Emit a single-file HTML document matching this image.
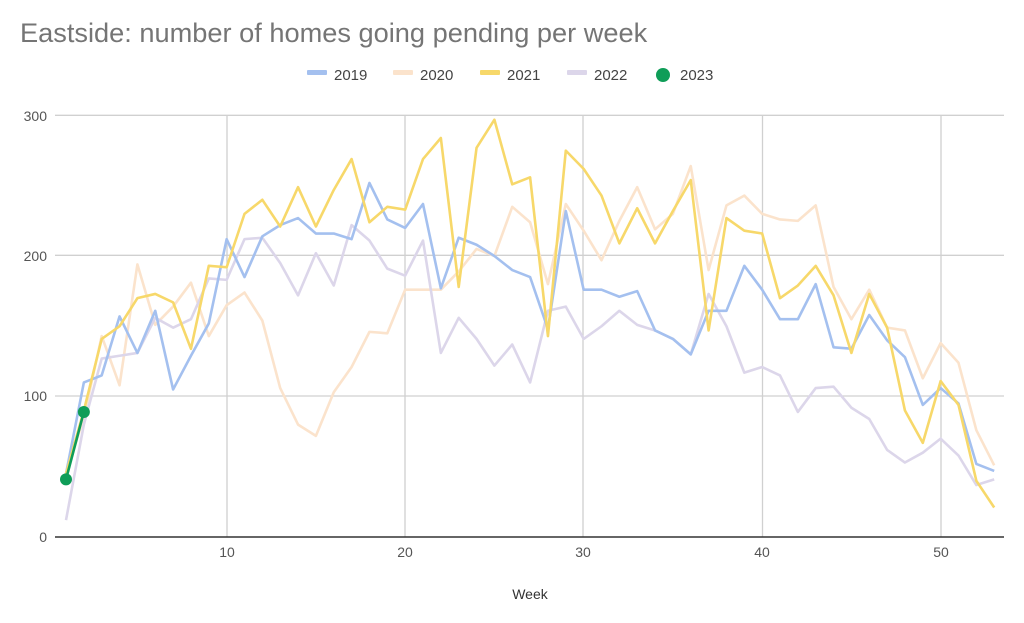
<!DOCTYPE html>
<html><head><meta charset="utf-8"><style>
body{margin:0;background:#fff;width:1024px;height:618px;overflow:hidden}
text{font-family:"Liberation Sans",sans-serif}
</style></head><body>
<svg id="s" width="1024" height="618" xmlns="http://www.w3.org/2000/svg">
<text x="20" y="42" font-size="27.2" fill="#757575">Eastside: number of homes going pending per week</text>
<g font-size="15" fill="#444">
<rect x="307" y="70" width="20" height="5" fill="#a4c0ef" rx="1"/><text x="334" y="80">2019</text>
<rect x="393" y="70" width="20" height="5" fill="#fbe3cc" rx="1"/><text x="420" y="80">2020</text>
<rect x="480" y="70" width="20" height="5" fill="#f7d86a" rx="1"/><text x="507" y="80">2021</text>
<rect x="567" y="70" width="20" height="5" fill="#dcd6ea" rx="1"/><text x="594" y="80">2022</text>
<circle cx="663" cy="75" r="7" fill="#0f9d58"/><text x="680" y="80">2023</text>
</g>
<g stroke="#d0d0d0" stroke-width="1.3">
<line x1="55" y1="115.3" x2="1004" y2="115.3"/><line x1="55" y1="255.3" x2="1004" y2="255.3"/><line x1="55" y1="396" x2="1004" y2="396"/>
<line x1="227" y1="115" x2="227" y2="537"/><line x1="405" y1="115" x2="405" y2="537"/><line x1="583" y1="115" x2="583" y2="537"/><line x1="762.5" y1="115" x2="762.5" y2="537"/><line x1="941" y1="115" x2="941" y2="537"/>
</g>
<line x1="55" y1="537" x2="1004" y2="537" stroke="#333" stroke-width="1.5"/>
<g font-size="14" fill="#555" text-anchor="end">
<text x="47" y="121">300</text><text x="47" y="261">200</text><text x="47" y="401">100</text><text x="47" y="542">0</text>
</g>
<g font-size="14" fill="#555" text-anchor="middle">
<text x="227" y="557">10</text><text x="405" y="557">20</text><text x="583" y="557">30</text><text x="762" y="557">40</text><text x="941" y="557">50</text>
<text x="530" y="599" fill="#333">Week</text>
</g>
<g id="lines" fill="none" stroke-width="2.6" stroke-linejoin="round"></g>
</svg>
<script>
var D={
"#fbe3cc":[45,85,143,108,194,151,164,181,143,165,174,154,106,80,72,103,121,146,145,176,176,176,189,205,200,235,224,180,237,218,197,225,249,219,230,264,190,236,243,230,226,225,236,178,155,176,149,147,113,138,124,76,51],
"#dcd6ea":[12,80,127,129,131,156,149,155,184,183,212,213,195,172,202,179,222,211,191,186,211,131,156,141,122,137,110,161,164,141,150,161,151,147,141,130,173,150,117,121,115,89,106,107,92,84,62,53,60,70,58,37,41],
"#a4c0ef":[45,110,115,157,131,161,105,129,152,212,185,214,222,227,216,216,212,252,226,220,237,177,213,208,200,190,185,148,232,176,176,171,175,147,141,130,161,161,193,176,155,155,180,135,134,158,140,128,94,106,95,52,47],
"#f7d86a":[45,90,141,150,170,173,167,134,193,192,230,240,221,249,221,247,269,224,235,233,269,284,178,277,297,251,256,143,275,262,243,209,234,209,232,254,147,227,218,216,170,179,193,172,131,173,149,90,67,111,94,40,21]};
var g=document.getElementById('lines'),ns="http://www.w3.org/2000/svg";
function X(w){return 66+(w-1)*17.85}function Y(v){return 537-v*1.405}
for(var c in D){var p=document.createElementNS(ns,'polyline');p.setAttribute('stroke',c);
p.setAttribute('points',D[c].map(function(v,i){return X(i+1)+','+Y(v)}).join(' '));g.appendChild(p);}
var l=document.createElementNS(ns,'polyline');l.setAttribute('stroke','#0f9d58');l.setAttribute('points',X(1)+','+Y(41)+' '+X(2)+','+Y(89));g.appendChild(l);
[[1,41],[2,89]].forEach(function(a){var c=document.createElementNS(ns,'circle');c.setAttribute('cx',X(a[0]));c.setAttribute('cy',Y(a[1]));c.setAttribute('r',6);c.setAttribute('fill','#0f9d58');c.setAttribute('stroke','none');g.appendChild(c);});
</script>
</body></html>
